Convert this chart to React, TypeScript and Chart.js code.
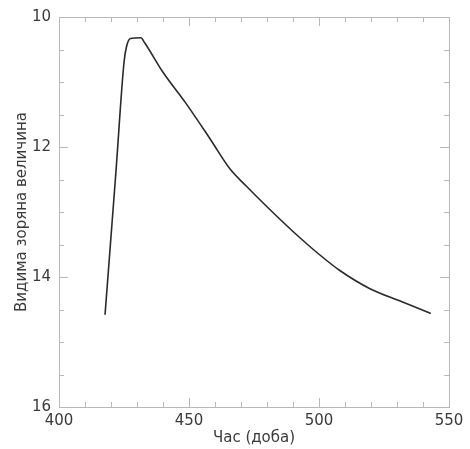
import React, { useEffect, useRef } from "react";
import { Chart, registerables } from "chart.js";

Chart.register(...registerables);

const timeDays = [417.7, 421.9, 425, 426, 427.5, 431.5, 433, 440, 448.5, 457.7, 465.8, 472, 480, 490, 500, 508, 519.6, 531.2, 543];
const magnitude = [14.58, 12.38, 10.7, 10.45, 10.33, 10.32, 10.4, 10.85, 11.31, 11.85, 12.34, 12.6, 12.92, 13.3, 13.65, 13.9, 14.18, 14.37, 14.56];
const xMajorTicks = [400, 450, 500, 550];
const yMajorTicks = [10, 12, 14, 16];
const xTitle = "Час (доба)";
const yTitle = "Видима зоряна величина";

const FONT = "'DejaVu Sans', 'Liberation Sans', sans-serif";
const FRAME = "#b8b8b8";
const TEXT = "#3a3a3a";

const framePlugin = {
  id: "frameTicks",
  afterDraw(chart: any) {
    const { ctx, chartArea, scales } = chart;
    const { left, right, top, bottom } = chartArea;
    ctx.save();
    ctx.strokeStyle = FRAME;
    ctx.lineWidth = 1;
    ctx.strokeRect(left + 0.5, top + 0.5, right - left, bottom - top);
    const xs = scales.x;
    xs.ticks.forEach((t: any) => {
      const px = Math.round(xs.getPixelForValue(t.value)) + 0.5;
      const len = xMajorTicks.includes(t.value) ? 9 : 5;
      ctx.beginPath();
      ctx.moveTo(px, bottom);
      ctx.lineTo(px, bottom - len);
      ctx.moveTo(px, top);
      ctx.lineTo(px, top + len);
      ctx.stroke();
    });
    const ys = scales.y;
    ys.ticks.forEach((t: any) => {
      const py = Math.round(ys.getPixelForValue(t.value)) + 0.5;
      const len = yMajorTicks.includes(t.value) ? 9 : 5;
      ctx.beginPath();
      ctx.moveTo(left, py);
      ctx.lineTo(left + len, py);
      ctx.moveTo(right, py);
      ctx.lineTo(right - len, py);
      ctx.stroke();
    });
    ctx.restore();
  },
};

export default function App() {
  const ref = useRef<HTMLCanvasElement | null>(null);
  useEffect(() => {
    if (!ref.current) return;
    const chart = new Chart(ref.current, {
      type: "line",
      data: {
        datasets: [
          {
            data: timeDays.map((x, i) => ({ x, y: magnitude[i] })),
            borderColor: "#2a2a2a",
            borderWidth: 1.6,
            pointRadius: 0,
            cubicInterpolationMode: "monotone",
            fill: false,
          },
        ],
      },
      options: {
        responsive: false,
        animation: false,
        layout: { padding: { left: 0, right: 21, top: 14, bottom: 0 } },
        plugins: { legend: { display: false }, tooltip: { enabled: false } },
        scales: {
          x: {
            type: "linear",
            min: 400,
            max: 550,
            grid: { display: false, drawTicks: false },
            border: { display: false },
            afterFit: (s: any) => {
              s.height = 42;
            },
            ticks: {
              stepSize: 10,
              autoSkip: false,
              maxRotation: 0,
              padding: 5,
              color: TEXT,
              font: { family: FONT, size: 15 },
              callback: (v: any) => (xMajorTicks.includes(Number(v)) ? String(v) : ""),
            },
            title: {
              display: true,
              text: xTitle,
              color: TEXT,
              font: { family: FONT, size: 15 },
              padding: { top: 0, bottom: 2 },
            },
          },
          y: {
            type: "linear",
            reverse: true,
            min: 10,
            max: 16,
            grid: { display: false, drawTicks: false },
            border: { display: false },
            afterFit: (s: any) => {
              s.width = 59;
            },
            ticks: {
              stepSize: 0.5,
              autoSkip: false,
              padding: 8,
              color: TEXT,
              font: { family: FONT, size: 15 },
              callback: (v: any) => (yMajorTicks.includes(Number(v)) ? String(v) : ""),
            },
            title: {
              display: true,
              text: yTitle,
              color: TEXT,
              font: { family: FONT, size: 15 },
              padding: { top: 13, bottom: 0 },
            },
          },
        },
      },
      plugins: [framePlugin],
    });
    return () => chart.destroy();
  }, []);
  return (
    <div style={{ position: "fixed", left: 0, top: 0, width: 470, height: 449, background: "#fff" }}>
      <canvas ref={ref} width={470} height={449} style={{ display: "block" }} />
    </div>
  );
}
